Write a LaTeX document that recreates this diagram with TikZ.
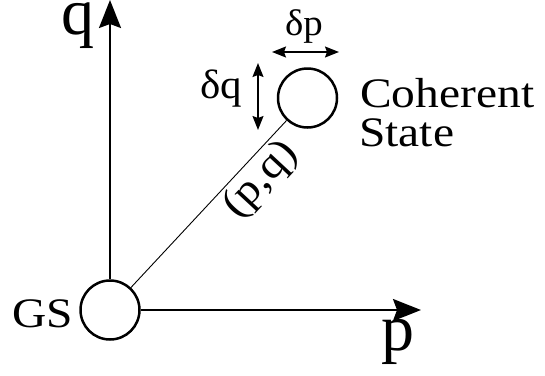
\documentclass[tikz,border=0pt]{standalone}
\usepackage{fontspec}
\setmainfont{Liberation Serif}
\usetikzlibrary{arrows.meta}
\tikzset{
  circ/.style={circle, draw, line width=2.5pt, minimum size=59pt, inner sep=0pt},
  axis/.style={line width=2pt, -{Stealth[length=28pt,width=22pt,inset=4pt]}},
  delta/.style={line width=1.5pt, {Stealth[length=14pt,width=11pt,inset=2pt]}-{Stealth[length=14pt,width=11pt,inset=2pt]}},
  axlbl/.style={inner sep=0pt, text height=31pt, text depth=14pt, font=\fontsize{66}{70}\selectfont},
  lbl/.style={inner sep=0pt, xscale=1.13, font=\fontsize{42}{39}\selectfont},
}
\begin{document}
\begin{tikzpicture}[x=1pt,y=-1pt]
\useasboundingbox (0,0) rectangle (545,375);
\node[circ] (gs) at (110,310) {};
\node[circ] (cs) at (307.5,98) {};
\coordinate (qtip) at (110,0);
\coordinate (ptip) at (421,310);
\draw[axis] (gs.north) -- (qtip);
\draw[axis] (gs.east) -- (ptip);
\draw[line width=0.9pt] (gs) -- (cs);
\coordinate (dpl) at (272,52);
\coordinate (dpr) at (339,52);
\coordinate (dqt) at (258,63);
\coordinate (dqb) at (258,130);
\draw[delta] (dpl) -- (dpr);
\draw[delta] (dqt) -- (dqb);
\node[axlbl, anchor=base] (ql) at (78,34) {q};
\node[axlbl, anchor=base] (pl) at (398,350) {p};
\node[lbl, anchor=base west] (gsl) at (12,327) {GS};
\node[lbl, anchor=base west] (coh) at (360,107) {Coherent};
\node[lbl, anchor=base west] (sta) at (359,146) {State};
\node[inner sep=0pt, xscale=1.05, font=\fontsize{37}{40}\selectfont, anchor=base] (dp) at (304,35) {δp};
\node[inner sep=0pt, xscale=1.05, font=\fontsize{41}{44}\selectfont, anchor=base] (dq) at (221,98) {δq};
\node[inner sep=0pt, rotate=47.1, xscale=1.1, font=\fontsize{42}{44}\selectfont] (pq) at (261,180) {(p,q)};
\end{tikzpicture}
\end{document}
